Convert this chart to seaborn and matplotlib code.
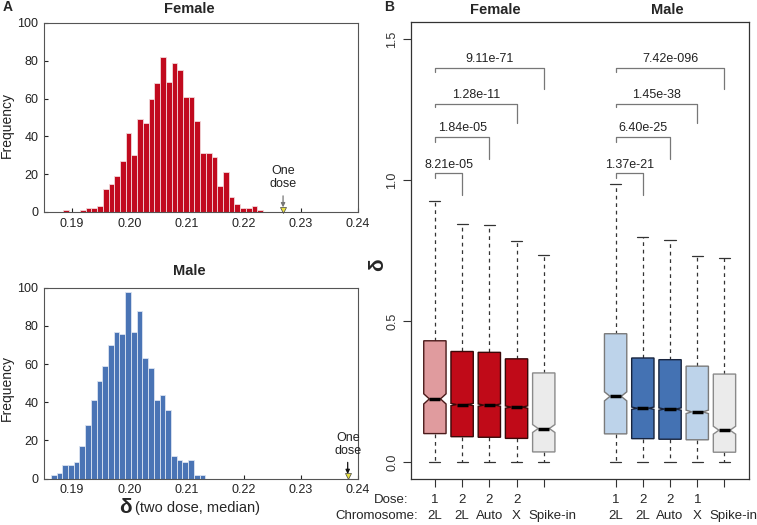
import numpy as np
import pandas as pd
import matplotlib.pyplot as plt
import seaborn as sns

# ---------------- Data ----------------

# Panel A: histogram counts, bins of width 0.001
bin_width = 0.001
female_start = 0.1884
female_counts = [1, 0, 0, 1, 2, 2, 3, 12, 15, 19, 27, 42, 30, 49, 47, 60, 68, 82,
                 69, 79, 75, 61, 61, 48, 31, 31, 29, 14, 21, 8, 4, 2, 2, 3, 1]
male_start = 0.1863
male_counts = [2, 3, 7, 7, 9, 17, 28, 41, 51, 59, 70, 77, 76, 98, 77, 88, 63, 58,
               41, 44, 36, 12, 10, 9, 10, 2, 2]
female_one_dose = 0.2269
male_one_dose = 0.2382
hist_xticks = [0.19, 0.20, 0.21, 0.22, 0.23, 0.24]

# Panel B: box statistics (Female x5, Male x5)
dose = ['1', '2', '2', '2', '', '1', '2', '2', '1', '']
chrom = ['2L', '2L', 'Auto', 'X', 'Spike-in', '2L', '2L', 'Auto', 'X', 'Spike-in']
positions = [0, 1, 2, 3, 4, 6.64, 7.64, 8.64, 9.64, 10.64]
q1 = [0.101, 0.090, 0.088, 0.084, 0.036, 0.100, 0.083, 0.081, 0.079, 0.035]
med = [0.224, 0.204, 0.202, 0.195, 0.119, 0.233, 0.191, 0.188, 0.178, 0.113]
q3 = [0.430, 0.392, 0.389, 0.366, 0.316, 0.455, 0.369, 0.363, 0.340, 0.312]
whis_hi = [0.926, 0.844, 0.841, 0.785, 0.733, 0.985, 0.797, 0.789, 0.730, 0.723]
whis_lo = [0.0] * 10
notch_half = [0.018, 0.004, 0.004, 0.004, 0.014, 0.016, 0.004, 0.004, 0.006, 0.014]
box_fill = ['#E09B9E', '#C00A18', '#C00A18', '#C00A18', '#EBEBEB',
            '#BDD3EA', '#4472B3', '#4472B3', '#BDD3EA', '#EBEBEB']
box_edge = ['#4a1a1a', '#3a0808', '#3a0808', '#3a0808', '#8a8a8a',
            '#7a7a7a', '#18243e', '#18243e', '#7a7a7a', '#8a8a8a']

# p-value brackets (same layout for each group): right box index, heights
br_right = [1, 2, 3, 4]
br_top = [1.023, 1.152, 1.271, 1.396]
br_left_end = [1.008, 1.135, 1.257, 1.381]
br_right_end = [0.947, 1.076, 1.202, 1.324]
female_p = ['8.21e-05', '1.84e-05', '1.28e-11', '9.11e-71']
male_p = ['1.37e-21', '6.40e-25', '1.45e-38', '7.42e-096']

# ---------------- Style ----------------
sns.set_style('white')
plt.rcParams['font.family'] = ['Liberation Sans', 'DejaVu Sans']
plt.rcParams['font.size'] = 9

fig = plt.figure(figsize=(7.57, 5.25), dpi=100)
ax_f = fig.add_axes([0.0581, 0.5962, 0.4148, 0.36])
ax_m = fig.add_axes([0.0581, 0.0882, 0.4148, 0.3638])
ax_b = fig.add_axes([0.5425, 0.0876, 0.4469, 0.8705])


def draw_hist(ax, start, counts, color, edge, title, title_y, one_dose,
              arrow_col, freq_y):
    edges = [start + bin_width * i for i in range(len(counts) + 1)]
    df = pd.DataFrame({'center': [(edges[i] + edges[i + 1]) / 2
                                  for i in range(len(counts))],
                       'count': counts})
    sns.histplot(data=df, x='center', weights='count', bins=edges, ax=ax,
                 color=color, edgecolor=edge, linewidth=0.6, alpha=1)
    ax.set_xlim(0.1851, 0.2399)
    ax.set_ylim(0, 100)
    ax.set_xticks(hist_xticks)
    ax.set_xticklabels([f'{t:.2f}' for t in hist_xticks])
    ax.set_yticks([0, 20, 40, 60, 80, 100])
    ax.tick_params(direction='in', length=3, width=0.8, colors='#222',
                   labelsize=9, pad=4, left=True, bottom=True)
    ax.set_xlabel('')
    ax.set_ylabel('')
    for s in ax.spines.values():
        s.set_color('#555')
        s.set_linewidth(0.8)
    ax.text(0.462, title_y, title, transform=ax.transAxes, ha='center',
            va='center', fontsize=10.5, fontweight='bold')
    ax.text(-0.118, freq_y, 'Frequency', transform=ax.transAxes, rotation=90,
            ha='center', va='center', fontsize=10, color='#222')
    ax.annotate('', xy=(one_dose, 1), xytext=(one_dose, 10),
                arrowprops=dict(arrowstyle='-|>', color=arrow_col, lw=0.9,
                                mutation_scale=6))
    ax.plot([one_dose], [1.3], marker='v', ms=4.5, color='#E8E040',
            markeredgecolor='#444', markeredgewidth=0.5, clip_on=False)
    ax.text(one_dose, 11.5, 'One\ndose', ha='center', va='bottom',
            fontsize=9, color='#222', linespacing=1.1)


draw_hist(ax_f, female_start, female_counts, '#C10A1E', '#f2d8da', 'Female',
          1.074, female_one_dose, '#777', 0.46)
draw_hist(ax_m, male_start, male_counts, '#4A74B5', '#dbe4f2', 'Male',
          1.089, male_one_dose, '#111', 0.475)

ax_m.text(0.259, -0.153, 'δ', transform=ax_m.transAxes, ha='center',
          va='center', fontsize=15, fontweight='bold')
ax_m.text(0.29, -0.153, '(two dose, median)', transform=ax_m.transAxes,
          ha='left', va='center', fontsize=10.5)

# ---------------- Panel B ----------------
stats = []
for i in range(len(positions)):
    stats.append(dict(med=med[i], q1=q1[i], q3=q3[i], whislo=whis_lo[i],
                      whishi=whis_hi[i], cilo=med[i] - notch_half[i],
                      cihi=med[i] + notch_half[i], fliers=[]))

bp = ax_b.bxp(stats, positions=positions, widths=0.82, shownotches=True,
              patch_artist=True, showfliers=False, manage_ticks=False,
              whiskerprops=dict(color='#333', lw=0.9, linestyle=(0, (3, 3))),
              capprops=dict(color='#333', lw=0.9),
              medianprops=dict(color='black', lw=2.5))
for patch, fc, ec in zip(bp['boxes'], box_fill, box_edge):
    patch.set_facecolor(fc)
    patch.set_edgecolor(ec)
    patch.set_linewidth(1.0)
for w in bp['whiskers']:
    w.set_zorder(1)

# brackets
for base, labels in [(0, female_p), (5, male_p)]:
    x0 = positions[base]
    for k in range(4):
        x1 = positions[base + br_right[k]]
        ax_b.plot([x0, x0, x1, x1],
                  [br_left_end[k], br_top[k], br_top[k], br_right_end[k]],
                  color='#777', lw=0.9)
        ax_b.text((x0 + x1) / 2, br_top[k] + 0.01, labels[k], ha='center',
                  va='bottom', fontsize=9, color='#222')

ax_b.set_xlim(-0.89, 11.54)
ax_b.set_ylim(-0.06, 1.56)
ax_b.set_yticks([0.0, 0.5, 1.0, 1.5])
ax_b.set_yticklabels(['0.0', '0.5', '1.0', '1.5'], rotation=90, va='center')
ax_b.set_xticks(positions)
ax_b.set_xticklabels([''] * len(positions))
ax_b.tick_params(direction='out', length=6, width=0.8, colors='#333',
                 labelsize=9, pad=3, left=True, bottom=True)
for s in ax_b.spines.values():
    s.set_color('#333')
    s.set_linewidth(0.9)
ax_b.text(-0.099, 0.47, 'δ', transform=ax_b.transAxes, rotation=90,
          ha='center', va='center', fontsize=15, fontweight='bold')

tr = ax_b.get_xaxis_transform()
for x, d, c in zip(positions, dose, chrom):
    ax_b.text(x, -0.046, d, transform=tr, ha='center', va='center', fontsize=9.5)
    # the long 'Spike-in' label sits a little right of its box
    cx = x + 0.33 if c == 'Spike-in' else x
    ax_b.text(cx, -0.081, c, transform=tr, ha='center', va='center', fontsize=9.5)
ax_b.text(-0.99, -0.046, 'Dose:', transform=tr, ha='right', va='center', fontsize=9.5)
ax_b.text(-0.625, -0.081, 'Chromosome:', transform=tr, ha='right', va='center',
          fontsize=9.5)

ax_b.text(2.23, 1.026, 'Female', transform=tr, ha='center', va='center',
          fontsize=10.5, fontweight='bold')
ax_b.text(8.55, 1.026, 'Male', transform=tr, ha='center', va='center',
          fontsize=10.5, fontweight='bold')

fig.text(0.004, 0.987, 'A', ha='left', va='center', fontsize=10, fontweight='bold')
fig.text(0.508, 0.987, 'B', ha='left', va='center', fontsize=10, fontweight='bold')

fig.savefig('out.png', dpi=100)
